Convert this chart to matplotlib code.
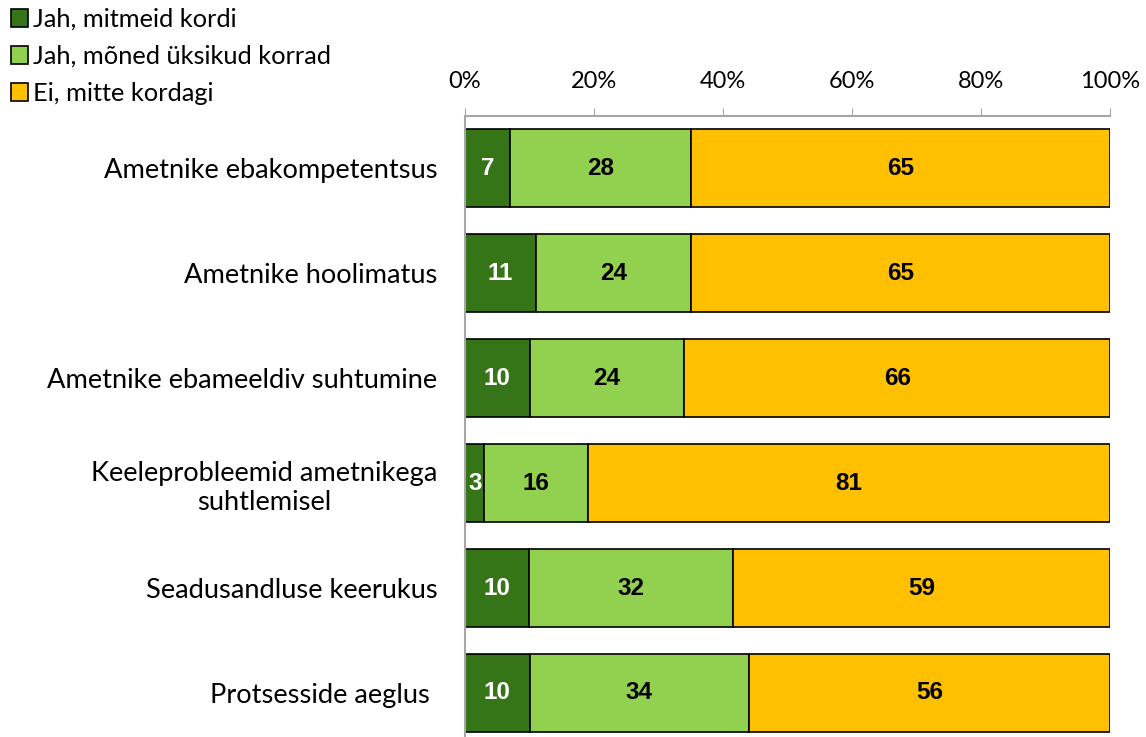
import matplotlib
matplotlib.use('Agg')
from matplotlib import pyplot as plt
import numpy as np

plt.rcParams['font.family'] = ['Lato', 'DejaVu Sans']

# Data
categories = ['Ametnike ebakompetentsus',
              'Ametnike hoolimatus',
              'Ametnike ebameeldiv suhtumine',
              'Keeleprobleemid ametnikega\nsuhtlemisel',
              'Seadusandluse keerukus',
              'Protsesside aeglus ']
series_names = ['Jah, mitmeid kordi', 'Jah, mõned üksikud korrad', 'Ei, mitte kordagi']
several = [7, 11, 10, 3, 10, 10]
some = [28, 24, 24, 16, 32, 34]
never = [65, 65, 66, 81, 59, 56]
tick_labels = ['0%', '20%', '40%', '60%', '80%', '100%']

colors = ['#357517', '#92D050', '#FFC000']
text_colors = ['white', 'black', 'black']

fig = plt.figure(figsize=(11.46, 7.37), dpi=100)
ax = fig.add_axes([0.4058, 0.0, 0.5628, 0.8426])

values = np.array([several, some, never], dtype=float)
totals = values.sum(axis=0)
shares = values / totals * 100
y = np.arange(len(categories))

left = np.zeros(len(categories))
for i in range(3):
    bars = ax.barh(y, shares[i], left=left, height=0.743, color=colors[i],
                   edgecolor='black', linewidth=1.2, label=series_names[i])
    for b, v in zip(bars, values[i]):
        ax.text(b.get_x() + b.get_width() / 2, b.get_y() + b.get_height() / 2,
                f'{int(v)}', ha='center', va='center', color=text_colors[i],
                fontsize=17.5, fontweight='bold', family='Liberation Sans')
    left += shares[i]

ax.set_xlim(0, 100)
ax.set_ylim(5.42, -0.5)
ax.xaxis.tick_top()
ax.set_xticks(np.arange(0, 101, 20))
ax.set_xticklabels(tick_labels, fontsize=17)
ax.tick_params(axis='x', direction='out', length=5.5, color='#A6A6A6', pad=12)
ax.set_yticks(y)
ax.set_yticklabels(categories, fontsize=19.6)
ax.tick_params(axis='y', length=0, pad=20)
for lab in ax.get_yticklabels():
    lab.set_multialignment('center')
    lab.set_linespacing(1.2)

for side in ['right', 'bottom']:
    ax.spines[side].set_visible(False)
for side in ['top', 'left']:
    ax.spines[side].set_color('#A6A6A6')
    ax.spines[side].set_linewidth(1.5)

fig.legend(loc='upper left', bbox_to_anchor=(0.0005, 1.003), frameon=False,
           fontsize=18.3, handlelength=0.68, handleheight=0.68,
           handletextpad=0.2, labelspacing=0.55, borderaxespad=0)

fig.savefig('out.png', dpi=100)
